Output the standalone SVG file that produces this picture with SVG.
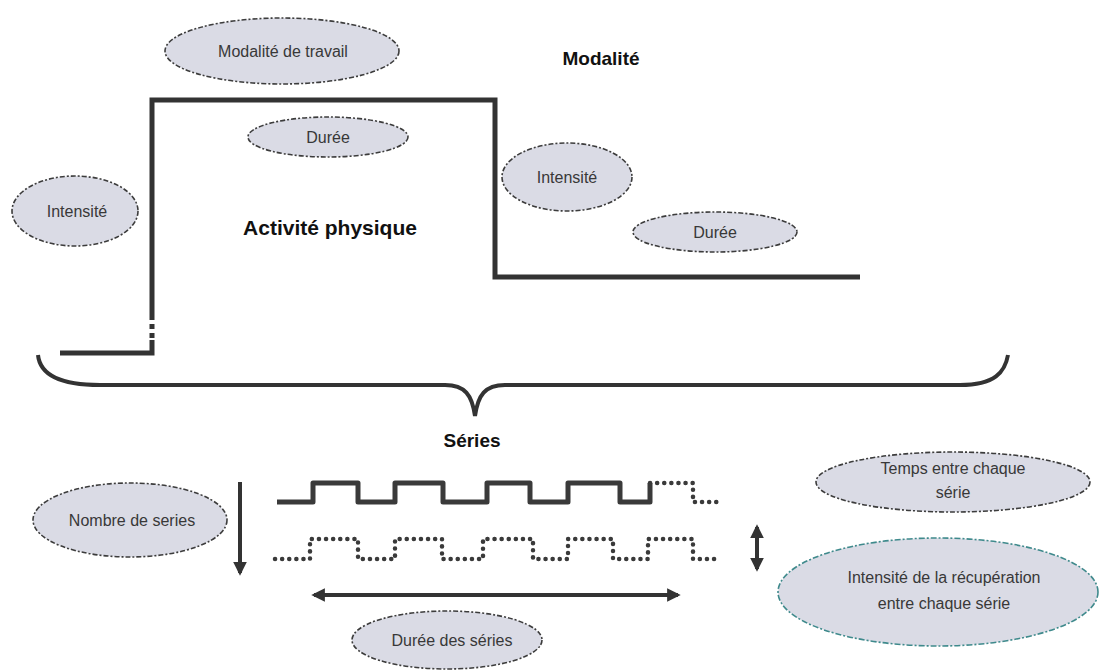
<svg xmlns="http://www.w3.org/2000/svg" width="1099" height="672" viewBox="0 0 1099 672">
<defs>
<style>
.bg{fill:#ffffff}
.oval{fill:#dadbe5;stroke:#3c3c3c;stroke-width:1.6;stroke-dasharray:5 2 2 2}
.oval-teal{fill:#dadbe5;stroke:#3f8a8c;stroke-width:1.6;stroke-dasharray:6 2 2 2}
.lbl{font-family:"Liberation Sans","DejaVu Sans",sans-serif;font-size:16px;fill:#383838;text-anchor:middle}
.title{font-family:"Liberation Sans","DejaVu Sans",sans-serif;font-weight:bold;fill:#111;text-anchor:middle}
.step{fill:none;stroke:#333;stroke-width:5;stroke-linejoin:miter}
.wave{fill:none;stroke:#3a3a3a;stroke-width:5;stroke-linejoin:round}
.dots{fill:none;stroke:#3a3a3a;stroke-width:4.5;stroke-linecap:round;stroke-dasharray:0.1 7}
.arrow{fill:none;stroke:#333;stroke-width:4}
</style>
<marker id="ah" viewBox="0 0 10 10" refX="8" refY="5" markerWidth="3.4" markerHeight="3.4" orient="auto-start-reverse" markerUnits="strokeWidth">
<path d="M0,0 L10,5 L0,10 Z" fill="#333"/>
</marker>
</defs>
<rect class="bg" x="0" y="0" width="1099" height="672"/>

<g id="connectors">
<path class="step" d="M60,353 H152 V100 H495 V277 H860"/>
<line x1="152" y1="320" x2="152" y2="340" stroke="#fff" stroke-width="6" stroke-dasharray="4 5"/>
<path id="brace" d="M38,355 C40,375 60,385 100,385 L445,385 C465,385 472,395 475,416 C478,395 485,385 505,385 L960,385 C995,385 1005,372 1008,355" fill="none" stroke="#333" stroke-width="4"/>
<path class="wave" d="M277,502 H313 V483 H358 V502 H395 V483 H443 V502 H487 V483 H530 V502 H568 V483 H620 V502 H650 V483"/>
<path class="dots" d="M650,483 H693 V502 H720"/>
<path class="dots" d="M275,559 H310 V539 H358 V559 H395 V539 H442 V559 H483 V539 H533 V559 H568 V539 H613 V559 H648 V539 H693 V559 H720"/>
<line class="arrow" x1="240" y1="482" x2="240" y2="573" marker-end="url(#ah)"/>
<line class="arrow" x1="757" y1="527" x2="757" y2="569" marker-start="url(#ah)" marker-end="url(#ah)"/>
<line class="arrow" x1="314" y1="595" x2="678" y2="595" marker-start="url(#ah)" marker-end="url(#ah)"/>
</g>

<g id="title-modalite"><text class="title" x="601" y="65" font-size="19">Modalité</text></g>
<g id="title-activite"><text class="title" x="330" y="235" font-size="21">Activité physique</text></g>
<g id="title-series"><text class="title" x="472" y="447" font-size="19">Séries</text></g>

<g id="n-modalite-travail"><ellipse class="oval" cx="282" cy="51" rx="117" ry="33"/><text class="lbl" x="283" y="57">Modalité de travail</text></g>
<g id="n-duree-1"><ellipse class="oval" cx="328" cy="137" rx="80" ry="20"/><text class="lbl" x="328" y="143">Durée</text></g>
<g id="n-intensite-1"><ellipse class="oval" cx="75" cy="211" rx="63" ry="35"/><text class="lbl" x="77" y="217">Intensité</text></g>
<g id="n-intensite-2"><ellipse class="oval" cx="567" cy="177" rx="65" ry="34"/><text class="lbl" x="567" y="183">Intensité</text></g>
<g id="n-duree-2"><ellipse class="oval" cx="715" cy="232" rx="82" ry="20"/><text class="lbl" x="715" y="238">Durée</text></g>
<g id="n-nombre"><ellipse class="oval" cx="130" cy="520" rx="97" ry="37"/><text class="lbl" x="132" y="526">Nombre de series</text></g>
<g id="n-duree-series"><ellipse class="oval" cx="447" cy="640" rx="95" ry="29"/><text class="lbl" x="452" y="646">Durée des séries</text></g>
<g id="n-temps"><ellipse class="oval" cx="953" cy="482" rx="137" ry="30"/><text class="lbl" x="953" y="474">Temps entre chaque</text><text class="lbl" x="953" y="498">série</text></g>
<g id="n-intensite-recup"><ellipse class="oval-teal" cx="938" cy="592" rx="160" ry="54"/><text class="lbl" x="944" y="583">Intensité de la récupération</text><text class="lbl" x="944" y="609">entre chaque série</text></g>
</svg>
